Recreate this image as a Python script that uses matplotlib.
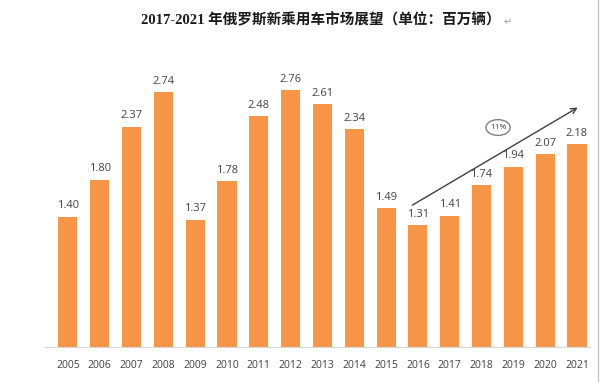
import matplotlib.pyplot as plt
from matplotlib.patches import Ellipse

years = ['2005', '2006', '2007', '2008', '2009', '2010', '2011', '2012', '2013',
         '2014', '2015', '2016', '2017', '2018', '2019', '2020', '2021']
sales = [1.40, 1.80, 2.37, 2.74, 1.37, 1.78, 2.48, 2.76, 2.61,
         2.34, 1.49, 1.31, 1.41, 1.74, 1.94, 2.07, 2.18]
growth_label = '11%'

fig = plt.figure(figsize=(6, 3.82), dpi=100)
ax = fig.add_axes([45 / 600, 35 / 382, 545 / 600, 279 / 382])

x = list(range(len(years)))
ax.bar(x, sales, width=0.6, color='#F79646')
for xi, v in zip(x, sales):
    ax.text(xi, v + 0.06, f'{v:.2f}', ha='center', va='bottom',
            fontsize=8, color='#404040', family='Open Sans')

ax.set_xlim(-0.72, 16.41)
ax.set_ylim(0, 3.0)
ax.set_xticks(x)
ax.set_xticklabels(years, fontsize=7.5, color='#404040', family='Open Sans')
ax.tick_params(axis='x', length=0, pad=9)
ax.set_yticks([])
for s in ['top', 'right', 'left']:
    ax.spines[s].set_visible(False)
ax.spines['bottom'].set_color('#D9D9D9')

# growth trend arrow (2016 -> 2021)
ax.annotate('', xy=(16.1, 2.59), xytext=(10.75, 1.51),
            arrowprops=dict(arrowstyle='->', color='#404040', lw=1.0))
ax.add_patch(Ellipse((13.52, 2.36), width=0.76, height=0.17, fill=False,
                     edgecolor='#808080', lw=1.0))
ax.text(13.52, 2.36, growth_label, ha='center', va='center', fontsize=6,
        color='#404040', family='Open Sans')

fig.text(0.535, 0.947, '2017-2021 年俄罗斯新乘用车市场展望（单位：百万辆）',
         ha='center', va='center', fontsize=10.5, weight='bold',
         family=['Liberation Serif', 'Noto Sans CJK SC'], color='#1a1a1a')
fig.text(0.84, 0.942, '↵', ha='left', va='center', fontsize=7, color='#999999',
         family='DejaVu Sans')
fig.add_artist(plt.Line2D([0.997, 0.997], [0, 1], color='#BFBFBF', lw=0.8))

fig.savefig('out.png', dpi=100)
